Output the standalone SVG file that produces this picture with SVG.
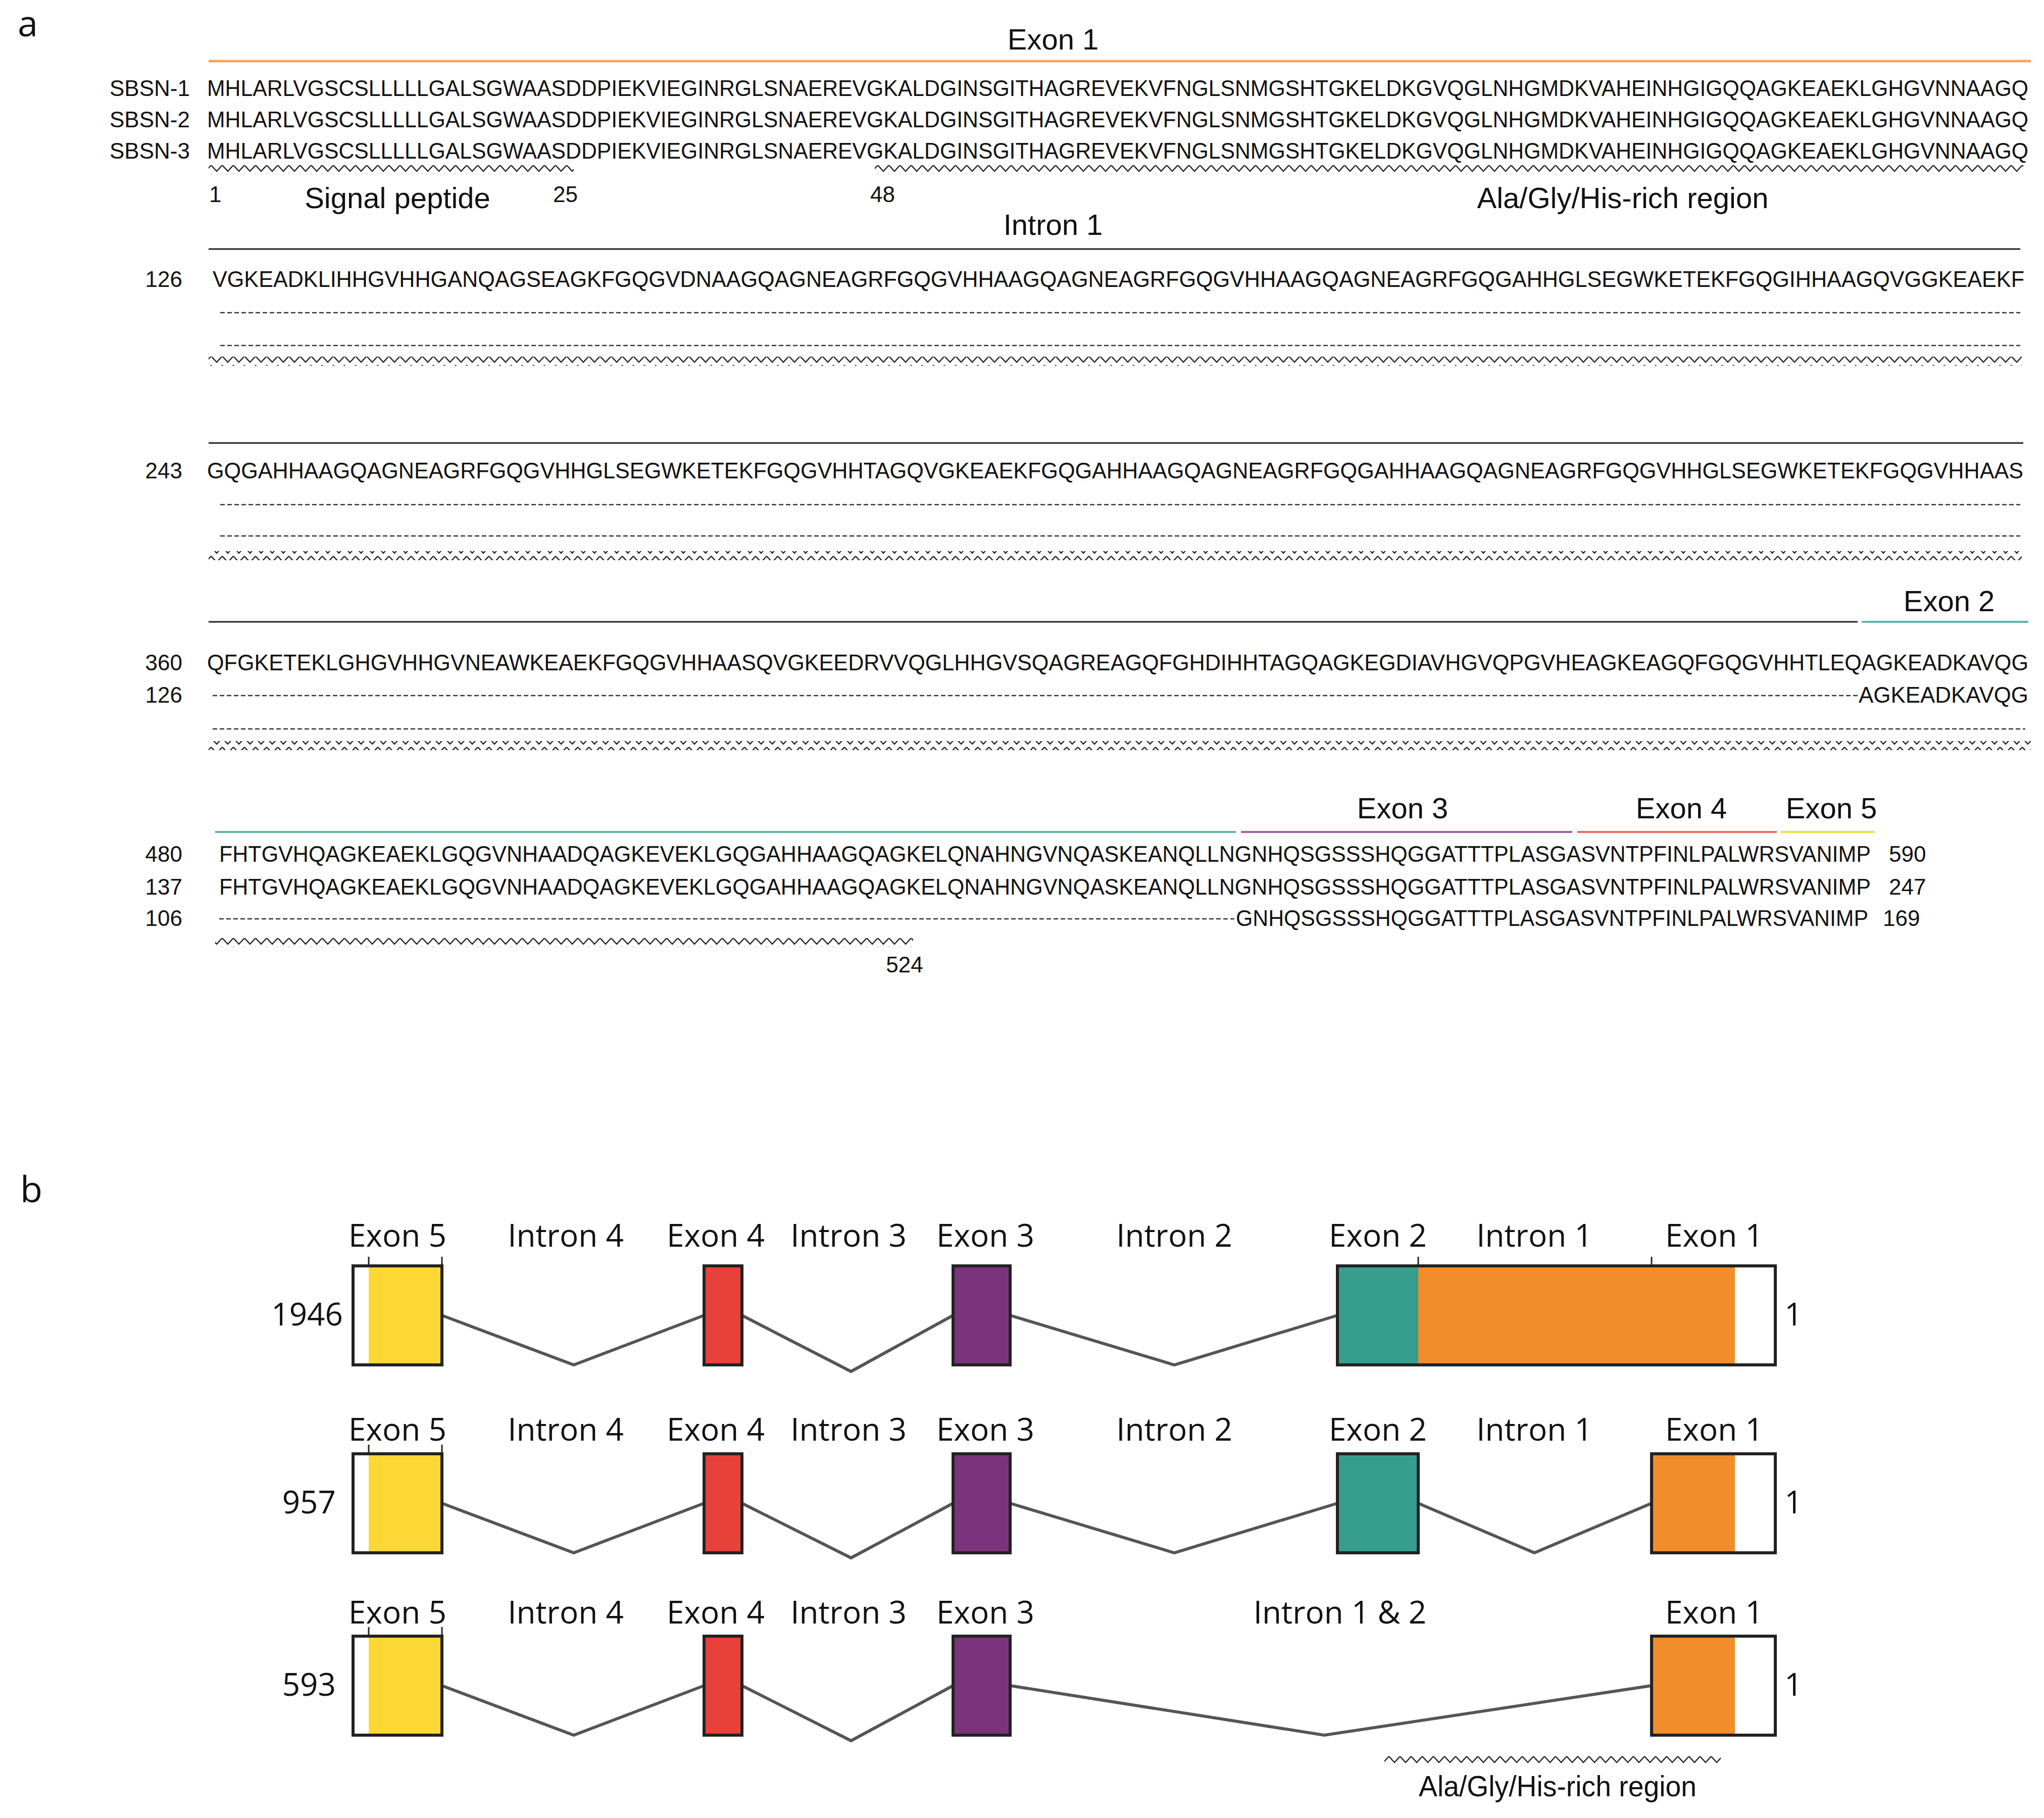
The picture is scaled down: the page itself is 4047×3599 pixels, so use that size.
<svg xmlns="http://www.w3.org/2000/svg" width="4047" height="3599" viewBox="0 0 4047 3599">
<style>
.seq{font-family:"Liberation Sans",Arial,sans-serif;font-size:44px;fill:#111}
.num{font-family:"Liberation Sans",Arial,sans-serif;font-size:44px;fill:#111}
.lab{font-family:"Liberation Sans",Arial,sans-serif;font-size:58px;fill:#111;text-anchor:middle}
.blab{font-family:"Open Sans","Liberation Sans",sans-serif;font-size:62px;fill:#111;text-anchor:middle}
.dash{stroke:#333;stroke-width:2.5;stroke-dasharray:9,5}
.conn{fill:none;stroke:#555;stroke-width:6}
.box{stroke:#222;stroke-width:6}
.tick{stroke:#222;stroke-width:3}
</style>
<defs>
<pattern id="zz" width="22" height="18" patternUnits="userSpaceOnUse">
<polyline points="0,3 11,15 22,3" fill="none" stroke="#222" stroke-width="2.5"/>
</pattern>
</defs>
<rect width="4047" height="3599" fill="#fff"/>
<g id="panel-a">
<text x="35" y="72" font-family="Open Sans,Liberation Sans,sans-serif" font-size="72" fill="#111">a</text>
<text class="lab" x="2085" y="98">Exon 1</text>
<line x1="413" y1="121" x2="4021" y2="121" stroke="#F8A35E" stroke-width="5"/>
<text class="num" x="217" y="190">SBSN-1</text>
<text class="num" x="217" y="252">SBSN-2</text>
<text class="num" x="217" y="314">SBSN-3</text>
<text class="seq" x="410" y="190" textLength="3606" lengthAdjust="spacingAndGlyphs">MHLARLVGSCSLLLLLGALSGWAASDDPIEKVIEGINRGLSNAEREVGKALDGINSGITHAGREVEKVFNGLSNMGSHTGKELDKGVQGLNHGMDKVAHEINHGIGQQAGKEAEKLGHGVNNAAGQ</text>
<text class="seq" x="410" y="252" textLength="3606" lengthAdjust="spacingAndGlyphs">MHLARLVGSCSLLLLLGALSGWAASDDPIEKVIEGINRGLSNAEREVGKALDGINSGITHAGREVEKVFNGLSNMGSHTGKELDKGVQGLNHGMDKVAHEINHGIGQQAGKEAEKLGHGVNNAAGQ</text>
<text class="seq" x="410" y="314" textLength="3606" lengthAdjust="spacingAndGlyphs">MHLARLVGSCSLLLLLGALSGWAASDDPIEKVIEGINRGLSNAEREVGKALDGINSGITHAGREVEKVFNGLSNMGSHTGKELDKGVQGLNHGMDKVAHEINHGIGQQAGKEAEKLGHGVNNAAGQ</text>
<rect x="413" y="327" width="723" height="18" fill="url(#zz)"/>
<rect x="1732" y="327" width="2274" height="18" fill="url(#zz)"/>
<text class="num" x="414" y="400">1</text>
<text class="lab" x="787" y="412">Signal peptide</text>
<text class="num" x="1095" y="400">25</text>
<text class="num" x="1723" y="400">48</text>
<text class="lab" x="3213" y="412">Ala/Gly/His-rich region</text>
<text class="lab" x="2085" y="465">Intron 1</text>
<line x1="413" y1="493" x2="4000" y2="493" stroke="#222" stroke-width="3"/>
<text class="num" x="361" y="568" text-anchor="end">126</text>
<text class="seq" x="421" y="568" textLength="3587" lengthAdjust="spacingAndGlyphs">VGKEADKLIHHGVHHGANQAGSEAGKFGQGVDNAAGQAGNEAGRFGQGVHHAAGQAGNEAGRFGQGVHHAAGQAGNEAGRFGQGAHHGLSEGWKETEKFGQGIHHAAGQVGGKEAEKF</text>
<line class="dash" x1="436" y1="619" x2="4000" y2="619"/>
<line class="dash" x1="436" y1="684" x2="4000" y2="684"/>
<rect x="413" y="706" width="3590" height="18" fill="url(#zz)"/>
<line x1="413" y1="877" x2="4006" y2="877" stroke="#222" stroke-width="3"/>
<text class="num" x="361" y="947" text-anchor="end">243</text>
<text class="seq" x="410" y="947" textLength="3596" lengthAdjust="spacingAndGlyphs">GQGAHHAAGQAGNEAGRFGQGVHHGLSEGWKETEKFGQGVHHTAGQVGKEAEKFGQGAHHAAGQAGNEAGRFGQGAHHAAGQAGNEAGRFGQGVHHGLSEGWKETEKFGQGVHHAAS</text>
<line class="dash" x1="436" y1="999" x2="4000" y2="999"/>
<line class="dash" x1="436" y1="1061" x2="4000" y2="1061"/>
<rect x="413" y="1091" width="3590" height="18" fill="url(#zz)"/>
<line x1="413" y1="1231" x2="3678" y2="1231" stroke="#222" stroke-width="3"/>
<line x1="3686" y1="1231" x2="4016" y2="1231" stroke="#5BB5A8" stroke-width="4"/>
<text class="lab" x="3859" y="1210">Exon 2</text>
<text class="num" x="361" y="1327" text-anchor="end">360</text>
<text class="seq" x="410" y="1327" textLength="3606" lengthAdjust="spacingAndGlyphs">QFGKETEKLGHGVHHGVNEAWKEAEKFGQGVHHAASQVGKEEDRVVQGLHHGVSQAGREAGQFGHDIHHTAGQAGKEGDIAVHGVQPGVHEAGKEAGQFGQGVHHTLEQAGKEADKAVQG</text>
<text class="num" x="361" y="1391" text-anchor="end">126</text>
<line class="dash" x1="421" y1="1377" x2="3680" y2="1377"/>
<text class="seq" x="3680" y="1391" textLength="336" lengthAdjust="spacingAndGlyphs">AGKEADKAVQG</text>
<line class="dash" x1="421" y1="1443" x2="4010" y2="1443"/>
<rect x="413" y="1467" width="3608" height="18" fill="url(#zz)"/>
<line x1="426" y1="1647" x2="2447" y2="1647" stroke="#5BB5A8" stroke-width="4"/>
<line x1="2457" y1="1647" x2="3113" y2="1647" stroke="#9F5FA8" stroke-width="4"/>
<line x1="3123" y1="1647" x2="3518" y2="1647" stroke="#EE6A64" stroke-width="4"/>
<line x1="3526" y1="1647" x2="3712" y2="1647" stroke="#F2E03A" stroke-width="4"/>
<text class="lab" x="2777" y="1620">Exon 3</text>
<text class="lab" x="3329" y="1620">Exon 4</text>
<text class="lab" x="3626" y="1620">Exon 5</text>
<text class="num" x="361" y="1706" text-anchor="end">480</text>
<text class="num" x="361" y="1771" text-anchor="end">137</text>
<text class="num" x="361" y="1833" text-anchor="end">106</text>
<text class="seq" x="434" y="1706" textLength="3270" lengthAdjust="spacingAndGlyphs">FHTGVHQAGKEAEKLGQGVNHAADQAGKEVEKLGQGAHHAAGQAGKELQNAHNGVNQASKEANQLLNGNHQSGSSSHQGGATTTPLASGASVNTPFINLPALWRSVANIMP</text>
<text class="seq" x="434" y="1771" textLength="3270" lengthAdjust="spacingAndGlyphs">FHTGVHQAGKEAEKLGQGVNHAADQAGKEVEKLGQGAHHAAGQAGKELQNAHNGVNQASKEANQLLNGNHQSGSSSHQGGATTTPLASGASVNTPFINLPALWRSVANIMP</text>
<line class="dash" x1="434" y1="1819" x2="2444" y2="1819"/>
<text class="seq" x="2447" y="1833" textLength="1252" lengthAdjust="spacingAndGlyphs">GNHQSGSSSHQGGATTTPLASGASVNTPFINLPALWRSVANIMP</text>
<text class="num" x="3740" y="1706">590</text>
<text class="num" x="3740" y="1771">247</text>
<text class="num" x="3728" y="1833">169</text>
<rect x="426" y="1857" width="1382" height="18" fill="url(#zz)"/>
<text class="num" x="1791" y="1925" text-anchor="middle">524</text>
</g>
<g id="panel-b">
<text x="40" y="2380" font-family="Open Sans,Liberation Sans,sans-serif" font-size="72" fill="#111">b</text>
<g id="connectors">
<polyline class="conn" points="875,2604 1136,2702 1394,2604"/>
<polyline class="conn" points="1469,2604 1685,2715 1887,2604"/>
<polyline class="conn" points="2000,2604 2325,2702 2648,2604"/>
<polyline class="conn" points="875,2976 1136,3074 1394,2976"/>
<polyline class="conn" points="1469,2976 1685,3084 1887,2976"/>
<polyline class="conn" points="2000,2976 2325,3074 2648,2976"/>
<polyline class="conn" points="2808,2976 3038,3074 3270,2976"/>
<polyline class="conn" points="875,3337 1136,3435 1394,3337"/>
<polyline class="conn" points="1469,3337 1685,3446 1887,3337"/>
<polyline class="conn" points="2000,3337 2622,3435 3270,3337"/>
</g>
<g id="row1">
<text class="blab" x="787" y="2468">Exon 5</text><text class="blab" x="1120" y="2468">Intron 4</text><text class="blab" x="1417" y="2468">Exon 4</text><text class="blab" x="1680" y="2468">Intron 3</text><text class="blab" x="1951" y="2468">Exon 3</text><text class="blab" x="2325" y="2468">Intron 2</text><text class="blab" x="2728" y="2468">Exon 2</text><text class="blab" x="3038" y="2468">Intron 1</text><text class="blab" x="3394" y="2468">Exon 1</text>
<text class="blab" x="679" y="2624" style="text-anchor:end">1946</text>
<text class="blab" x="3551" y="2624">1</text>
<rect x="730" y="2506" width="145" height="196" fill="#FDD835"/>
<rect class="box" x="699" y="2506" width="176" height="196" fill="none"/>
<rect class="box" x="1394" y="2506" width="75" height="196" fill="#E8413A"/>
<rect class="box" x="1887" y="2506" width="113" height="196" fill="#7B337E"/>
<rect x="2648" y="2506" width="160" height="196" fill="#379E8F"/>
<rect x="2808" y="2506" width="627" height="196" fill="#F18D2B"/>
<rect class="box" x="2648" y="2506" width="867" height="196" fill="none"/>
<line class="tick" x1="730" y1="2488" x2="730" y2="2506"/><line class="tick" x1="875" y1="2488" x2="875" y2="2506"/>
<line class="tick" x1="2808" y1="2488" x2="2808" y2="2506"/><line class="tick" x1="3270" y1="2488" x2="3270" y2="2506"/>
</g>
<g id="row2">
<text class="blab" x="787" y="2852">Exon 5</text><text class="blab" x="1120" y="2852">Intron 4</text><text class="blab" x="1417" y="2852">Exon 4</text><text class="blab" x="1680" y="2852">Intron 3</text><text class="blab" x="1951" y="2852">Exon 3</text><text class="blab" x="2325" y="2852">Intron 2</text><text class="blab" x="2728" y="2852">Exon 2</text><text class="blab" x="3038" y="2852">Intron 1</text><text class="blab" x="3394" y="2852">Exon 1</text>
<text class="blab" x="665" y="2996" style="text-anchor:end">957</text>
<text class="blab" x="3551" y="2996">1</text>
<rect x="730" y="2878" width="145" height="196" fill="#FDD835"/>
<rect class="box" x="699" y="2878" width="176" height="196" fill="none"/>
<rect class="box" x="1394" y="2878" width="75" height="196" fill="#E8413A"/>
<rect class="box" x="1887" y="2878" width="113" height="196" fill="#7B337E"/>
<rect class="box" x="2648" y="2878" width="160" height="196" fill="#379E8F"/>
<rect x="3270" y="2878" width="165" height="196" fill="#F18D2B"/>
<rect class="box" x="3270" y="2878" width="245" height="196" fill="none"/>
<line class="tick" x1="730" y1="2860" x2="730" y2="2878"/><line class="tick" x1="875" y1="2860" x2="875" y2="2878"/>
</g>
<g id="row3">
<text class="blab" x="787" y="3214">Exon 5</text><text class="blab" x="1120" y="3214">Intron 4</text><text class="blab" x="1417" y="3214">Exon 4</text><text class="blab" x="1680" y="3214">Intron 3</text><text class="blab" x="1951" y="3214">Exon 3</text><text class="blab" x="2653" y="3214">Intron 1 &amp; 2</text><text class="blab" x="3394" y="3214">Exon 1</text>
<text class="blab" x="665" y="3357" style="text-anchor:end">593</text>
<text class="blab" x="3551" y="3357">1</text>
<rect x="730" y="3239" width="145" height="196" fill="#FDD835"/>
<rect class="box" x="699" y="3239" width="176" height="196" fill="none"/>
<rect class="box" x="1394" y="3239" width="75" height="196" fill="#E8413A"/>
<rect class="box" x="1887" y="3239" width="113" height="196" fill="#7B337E"/>
<rect x="3270" y="3239" width="165" height="196" fill="#F18D2B"/>
<rect class="box" x="3270" y="3239" width="245" height="196" fill="none"/>
<line class="tick" x1="730" y1="3221" x2="730" y2="3239"/><line class="tick" x1="875" y1="3221" x2="875" y2="3239"/>
<rect x="2741" y="3474" width="666" height="18" fill="url(#zz)"/>
<text class="lab" x="3084" y="3556" textLength="550" lengthAdjust="spacingAndGlyphs">Ala/Gly/His-rich region</text>
</g>
</g>
</svg>
